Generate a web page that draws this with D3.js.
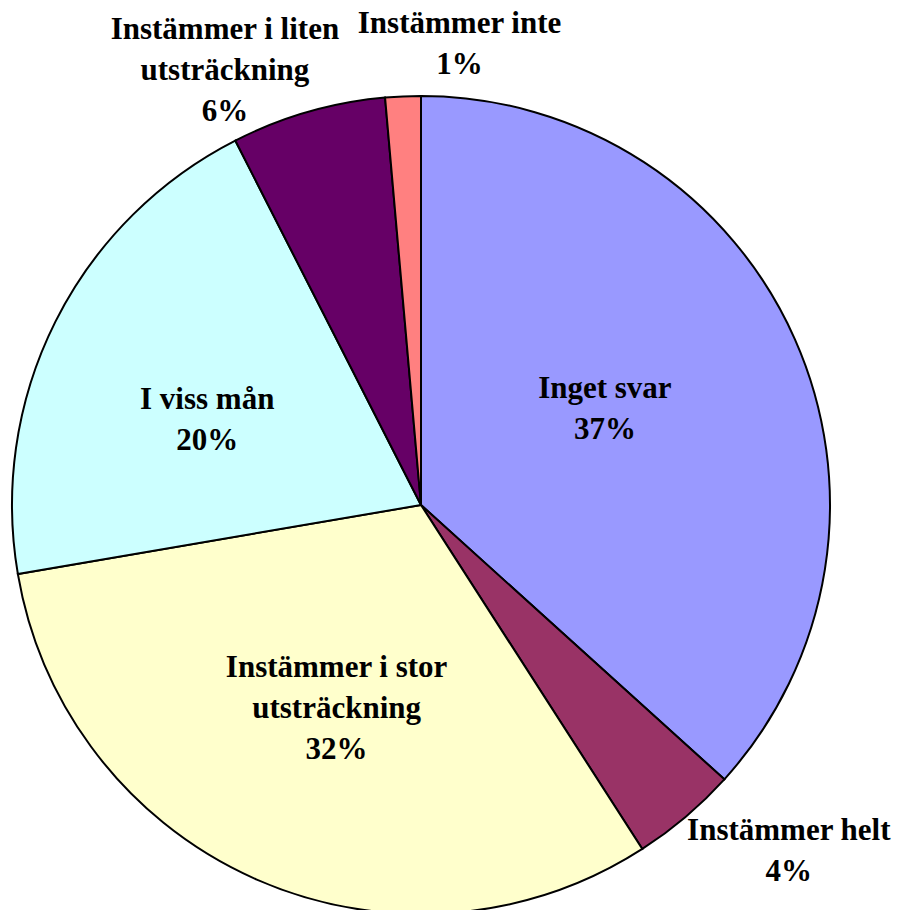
<!DOCTYPE html>
<html>
<head>
<meta charset="utf-8">
<style>
body{ margin:0; background:#fff; }
.slice{ stroke:#000; stroke-width:2; }
.lbl{ font-family:"Liberation Serif","Times New Roman",serif; font-weight:bold; font-size:31px; fill:#000; }
</style>
<script src="https://d3js.org/d3.v7.min.js"></script>
</head>
<body>
<script>
var w = 897;
var h = 910;

// slices, clockwise from 12 o'clock
var categories = ["Inget svar", "Instämmer helt", "Instämmer i stor utsträckning", "I viss mån", "Instämmer i liten utsträckning", "Instämmer inte"];
var values = [36.7, 4.2, 31.4, 20.2, 6.1, 1.4];
var pctLabels = ["37%", "4%", "32%", "20%", "6%", "1%"];
// label text broken into lines as in the chart
var labelLines = [
    ["Inget svar"],
    ["Instämmer helt"],
    ["Instämmer i stor", "utsträckning"],
    ["I viss mån"],
    ["Instämmer i liten", "utsträckning"],
    ["Instämmer inte"]
];
var colors = ["#9999ff", "#993366", "#ffffcc", "#ccffff", "#660066", "#ff8080"];
var outside = [false, true, false, false, true, true];

var cx = 421, cy = 505, r = 409;
var lineH = 41;

// small hand nudges so labels sit where the original put them
var nudge = [[-3, -4], [37, -34], [-2, 26], [-31, 16], [-55, 66], [61, 59]];

var svg = d3.select("body")
    .append("svg")
    .attr("width", w)
    .attr("height", h);

var g = svg.append("g")
    .attr("transform", "translate(" + cx + "," + cy + ")");

var pie = d3.pie().sort(null).value(function(d){ return d; });
var arcs = pie(values);

var arc = d3.arc().innerRadius(0).outerRadius(r);
var outerArc = d3.arc().innerRadius(r * 1.25).outerRadius(r * 1.25);

g.selectAll("path.slice")
    .data(arcs)
    .enter()
    .append("path")
    .attr("class", "slice")
    .attr("fill", function(d, i){ return colors[i]; })
    .attr("d", arc);

var labels = g.selectAll("text.lbl")
    .data(arcs)
    .enter()
    .append("text")
    .attr("class", "lbl")
    .attr("text-anchor", "middle")
    .attr("transform", function(d, i){
        var p = outside[i] ? outerArc.centroid(d) : arc.centroid(d);
        return "translate(" + (p[0] + nudge[i][0]) + "," + (p[1] + nudge[i][1]) + ")";
    });

labels.each(function(d, i){
    var lines = labelLines[i].concat([pctLabels[i]]);
    var n = lines.length;
    var t = d3.select(this);
    lines.forEach(function(s, j){
        t.append("tspan")
            .attr("x", 0)
            .attr("y", (j - (n - 1) / 2) * lineH)
            .text(s);
    });
});
</script>
</body>
</html>
